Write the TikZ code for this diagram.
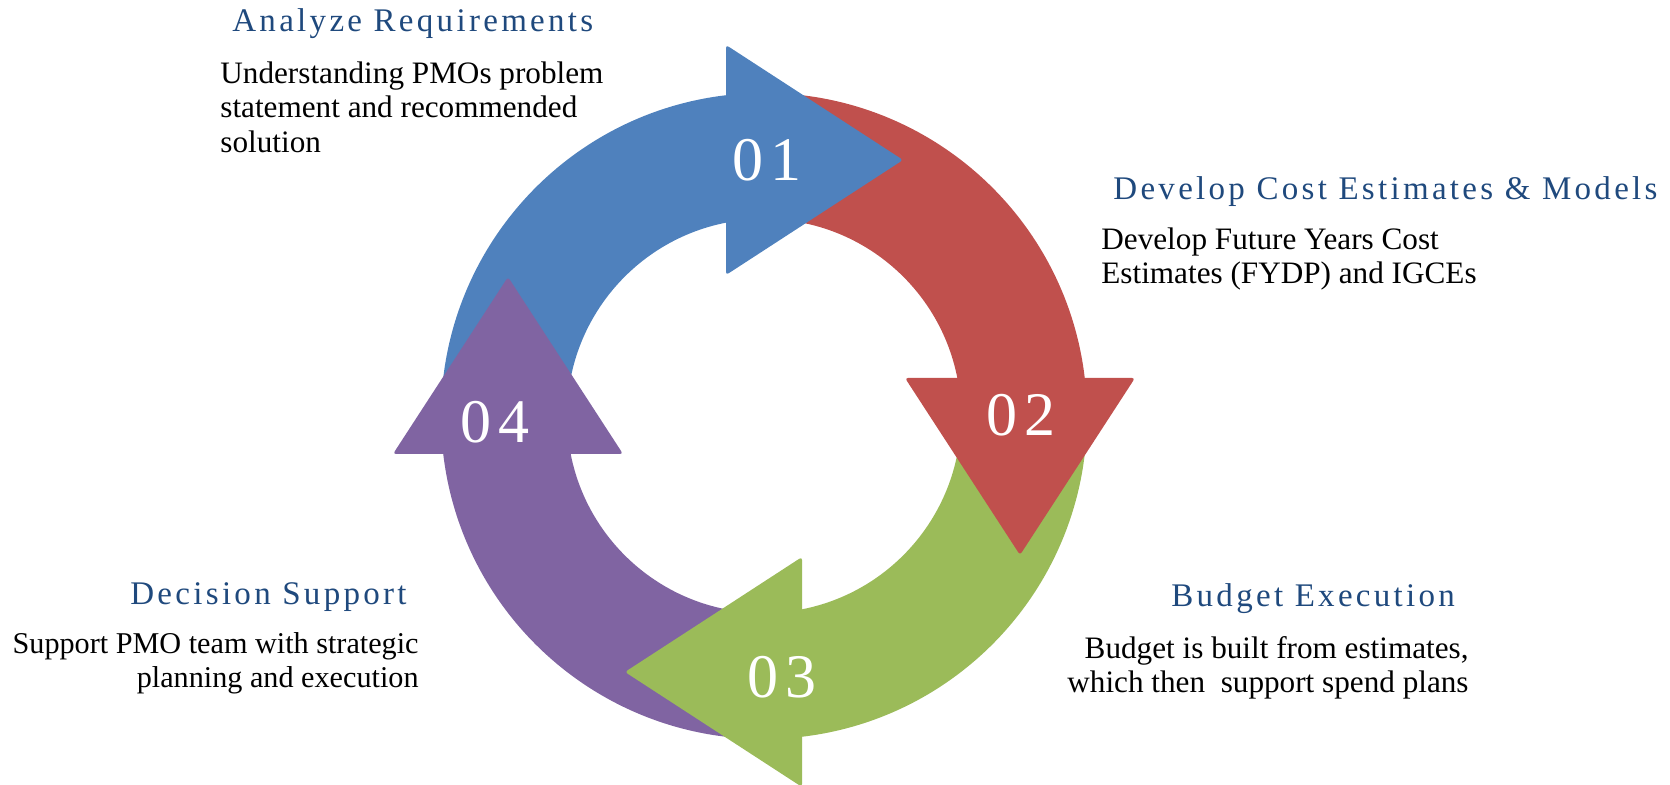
\documentclass[tikz,border=0pt]{standalone}
\usepackage{fontspec}
\setmainfont{Liberation Serif}
\newfontfamily\headfont[LetterSpace=10]{Liberation Serif}
\definecolor{cycblue}{HTML}{4F81BD}
\definecolor{cycred}{HTML}{C0504D}
\definecolor{cycgreen}{HTML}{9BBB59}
\definecolor{cycpurple}{HTML}{8064A2}
\definecolor{headblue}{HTML}{1F497D}
\tikzset{
  headtext/.style={font=\headfont\fontsize{16.5}{19}\selectfont,text=headblue,inner sep=0pt},
  bodytext/.style={font=\fontsize{15.6}{17.3}\selectfont,inner sep=0pt},
  numtext/.style={font=\headfont\fontsize{31}{31}\selectfont,text=white,inner sep=0pt}
}
\begin{document}
\begin{tikzpicture}[x=0.5pt,y=0.5pt]
  \useasboundingbox (0,0) rectangle (1670,785);
  \coordinate (c) at (764,369);

  % ring pieces
  \foreach \col/\rot in {cycblue/0,cycred/-90,cycgreen/-180,cycpurple/-270} {
    \begin{scope}[shift={(c)},rotate=\rot]
      \fill[\col] (180:323) arc[start angle=180,end angle=94,radius=323]
        -- (94:197) arc[start angle=94,end angle=180,radius=197] -- cycle;
    \end{scope}
  }
  % heads
  \foreach \col/\rot in {cycblue/0,cycred/-90,cycgreen/-180,cycpurple/-270} {
    \begin{scope}[shift={(c)},rotate=\rot]
      \fill[\col,rounded corners=1.5pt] (-38,141) -- (-38,371) -- (139,256) -- cycle;
    \end{scope}
  }

  \node[numtext] (n1) at (767,625) {01};
  \node[numtext] (n2) at (1021,370) {02};
  \node[numtext] (n3) at (782,108) {03};
  \node[numtext] (n4) at (495,363) {04};

  \node[headtext,anchor=base west] (t1) at (232,753) {Analyze Requirements};
  \node[bodytext,anchor=north west,align=left] (d1) at (220,724)
    {Understanding PMOs problem\\statement and recommended\\solution};

  \node[headtext,anchor=base west] (t2) at (1113,585) {Develop Cost Estimates \& Models};
  \node[bodytext,anchor=north west,align=left] (d2) at (1101,558)
    {Develop Future Years Cost\\Estimates (FYDP) and IGCEs};

  \node[headtext,anchor=base west] (t3) at (1171,178) {Budget Execution};
  \node[bodytext,anchor=north east,align=right] (d3) at (1469,149)
    {Budget is built from estimates,\\which then\ \ support spend plans};

  \node[headtext,anchor=base west] (t4) at (130,180) {Decision Support};
  \node[bodytext,font=\fontsize{15.1}{17.3}\selectfont,anchor=north east,align=right] (d4) at (419,153)
    {Support PMO team with strategic\\planning and execution};
\end{tikzpicture}
\end{document}
